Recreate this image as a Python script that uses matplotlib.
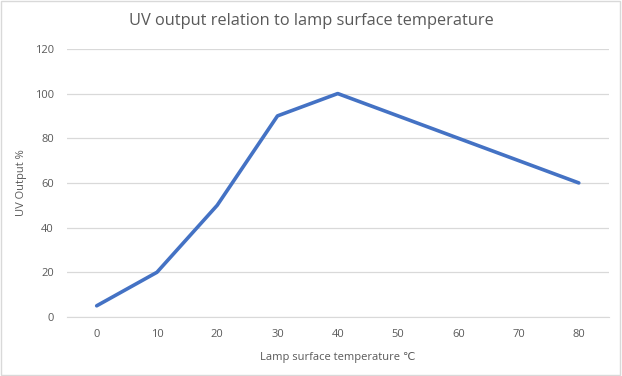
import matplotlib
matplotlib.use('Agg')
from matplotlib import pyplot as plt
from matplotlib.patches import Rectangle

temperatures = ['0', '10', '20', '30', '40', '50', '60', '70', '80']
uv_output = [5, 20, 50, 90, 100, 90, 80, 70, 60]
y_ticks = [0, 20, 40, 60, 80, 100, 120]

plt.rcParams['font.family'] = ['Open Sans', 'DejaVu Sans']
text_color = '#595959'

fig = plt.figure(figsize=(6.22, 3.76), dpi=100)
ax = fig.add_axes([0.107, 0.157, 0.872, 0.713])

positions = list(range(len(temperatures)))
ax.plot(positions, uv_output, color='#4472C4', linewidth=2.6, solid_capstyle='round')

ax.set_xlim(-0.5, len(temperatures) - 0.5)
ax.set_ylim(0, 120)
ax.set_yticks(y_ticks)
ax.set_xticks(positions)
ax.set_xticklabels(temperatures)
ax.grid(axis='y', color='#D9D9D9', linewidth=0.9)
ax.set_axisbelow(True)
for side in ['top', 'right', 'left']:
    ax.spines[side].set_visible(False)
ax.spines['bottom'].set_color('#D9D9D9')
ax.tick_params(length=0, labelsize=8, colors=text_color, pad=9)

ax.set_xlabel('Lamp surface temperature \u2103', fontsize=8, color=text_color, labelpad=8)
ax.set_ylabel('UV Output %', fontsize=8, color=text_color, labelpad=6)
fig.text(0.5, 0.945, 'UV output relation to lamp surface temperature', ha='center', va='center',
         fontsize=11.8, color=text_color)

fig.patches.append(Rectangle((0.002, 0.003), 0.995, 0.994, transform=fig.transFigure,
                             fill=False, edgecolor='#D9D9D9', linewidth=1))

fig.savefig('out.png', dpi=100)
